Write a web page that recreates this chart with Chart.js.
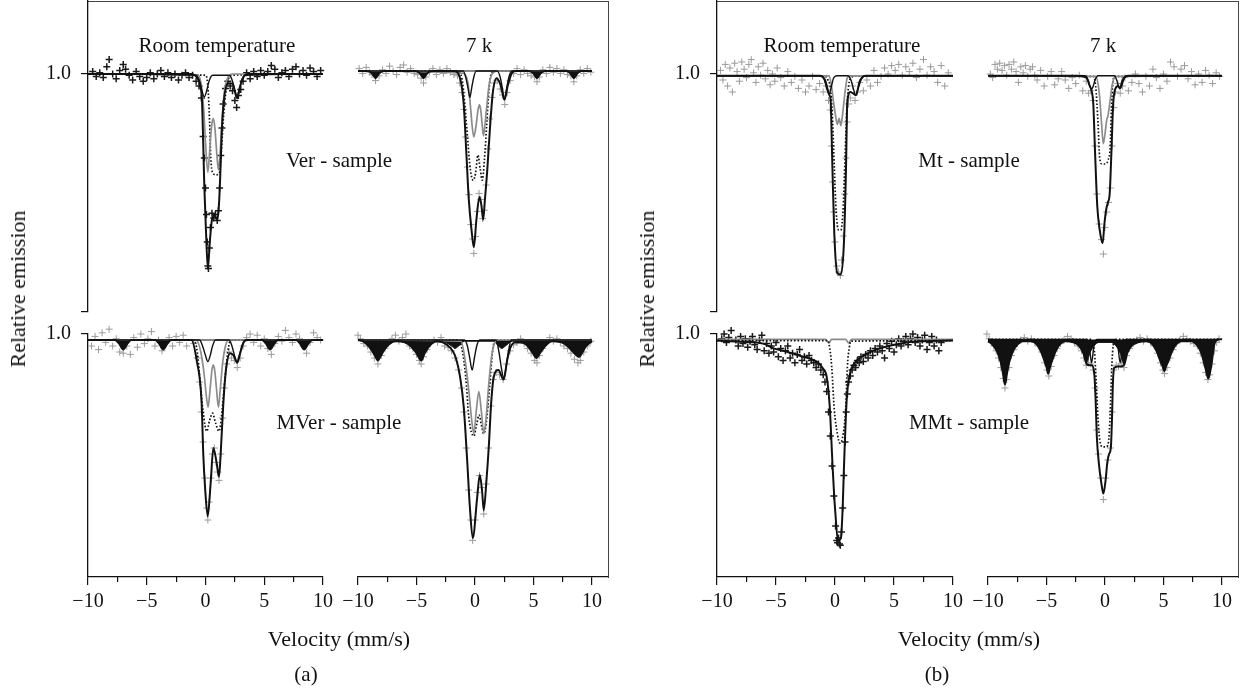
<!DOCTYPE html>
<html><head><meta charset="utf-8">
<script src="https://cdn.jsdelivr.net/npm/chart.js@4.4.1/dist/chart.umd.min.js"></script>
<style>
html,body{margin:0;padding:0;background:#fff;}
#wrap{position:relative;width:1249px;height:689px;overflow:hidden;font-family:"Liberation Serif","DejaVu Serif",serif;color:#111;background:#fff;}
canvas{position:absolute;left:0;top:-40px;}
.t{position:absolute;transform:translate(-50%,-50%);white-space:nowrap;font-size:21px;line-height:1;}
.ax{font-size:22px;}
.rot{transform:translate(-50%,-50%) rotate(-90deg);}
.frame{position:absolute;border-top:1px solid #444;border-right:1px solid #444;box-sizing:border-box;}
</style></head><body>
<div id="wrap">
<div class="frame" style="left:88px;top:1px;width:521px;height:577px;"></div>
<div class="frame" style="left:717px;top:1px;width:522px;height:577px;"></div>
<canvas id="c1" width="1249" height="729"></canvas>
<canvas id="c2" width="1249" height="729"></canvas>
<canvas id="c3" width="1249" height="729"></canvas>
<canvas id="c4" width="1249" height="729"></canvas>
<canvas id="c5" width="1249" height="729"></canvas>
<canvas id="c6" width="1249" height="729"></canvas>
<canvas id="c7" width="1249" height="729"></canvas>
<canvas id="c8" width="1249" height="729"></canvas>
<div class="t" style="left:217px;top:45px;">Room temperature</div>
<div class="t" style="left:479px;top:45px;">7 k</div>
<div class="t" style="left:339px;top:160px;">Ver - sample</div>
<div class="t" style="left:339px;top:422px;">MVer - sample</div>
<div class="t" style="left:842px;top:45px;">Room temperature</div>
<div class="t" style="left:1103px;top:45px;">7 k</div>
<div class="t" style="left:969px;top:160px;">Mt - sample</div>
<div class="t" style="left:969px;top:422px;">MMt - sample</div>
<div class="t ax" style="left:339px;top:639px;">Velocity (mm/s)</div>
<div class="t ax" style="left:969px;top:639px;">Velocity (mm/s)</div>
<div class="t" style="left:306px;top:674px;">(a)</div>
<div class="t" style="left:937px;top:674px;">(b)</div>
<div class="t ax rot" style="left:18px;top:289px;">Relative emission</div>
<div class="t ax rot" style="left:647px;top:289px;">Relative emission</div>
</div>
<script>
// ---------- tick values ----------
const xMajorTicks = [-10, -5, 0, 5, 10];
const xMinorTicks = [-7.5, -2.5, 2.5, 7.5];
const yLabelTick = 1.0;

// ---------- (a) Ver - sample, room temperature ----------
const fitVerRT = [[-10,1],[-1.2,1],[-0.8,0.998],[-0.6,0.995],[-0.45,0.99],[-0.3,0.978],[-0.2,0.945],[-0.1,0.906],[0.05,0.867],[0.2,0.838],[0.38,0.862],[0.58,0.88],[0.8,0.882],[1.0,0.878],[1.15,0.892],[1.25,0.914],[1.38,0.951],[1.55,0.976],[1.9,0.992],[2.3,0.992],[2.5,0.986],[2.7,0.980],[2.9,0.988],[3.2,0.997],[3.6,1],[10,1]];
const dblVerRT = [[-10,1],[-0.8,0.999],[-0.5,0.994],[-0.3,0.986],[-0.1,0.981],[0.1,0.986],[0.3,0.994],[0.6,0.999],[2.0,0.999],[2.3,0.994],[2.5,0.985],[2.68,0.980],[2.85,0.985],[3.05,0.994],[3.4,0.999],[10,1]];
const grayVerRT = [[-10,1],[-0.6,0.999],[-0.35,0.99],[-0.15,0.97],[0.0,0.943],[0.2,0.918],[0.35,0.935],[0.5,0.955],[0.65,0.963],[0.8,0.955],[0.95,0.935],[1.1,0.92],[1.25,0.935],[1.4,0.96],[1.6,0.985],[1.9,0.997],[2.3,1],[10,1]];
const dotVerRT = [[-10,1],[0.0,0.999],[0.2,0.99],[0.35,0.96],[0.45,0.93],[0.6,0.918],[0.9,0.916],[1.2,0.918],[1.35,0.935],[1.5,0.96],[1.7,0.982],[1.9,0.994],[2.2,0.999],[10,1]];
const ptsVerRT = [[-9.6,1.002],[-9.3,0.998],[-9.0,1.001],[-8.7,0.997],[-8.4,1.006],[-8.2,1.012],[-7.9,1.000],[-7.6,0.996],[-7.3,1.003],[-7.0,1.008],[-6.8,1.004],[-6.5,0.999],[-6.2,0.995],[-5.9,1.002],[-5.6,0.998],[-5.3,0.994],[-5.0,0.997],[-4.7,1.001],[-4.4,0.996],[-4.1,1.000],[-3.8,1.003],[-3.5,0.998],[-3.2,1.001],[-2.9,0.997],[-2.6,1.000],[-2.3,0.995],[-2.0,0.999],[-1.7,1.001],[-1.4,0.997],[-1.1,0.999],[-0.8,0.994],[-0.55,0.990],[-0.35,0.980],[-0.2,0.948],[-0.1,0.930],[0.0,0.905],[0.08,0.883],[0.15,0.86],[0.2,0.84],[0.25,0.838],[0.33,0.855],[0.42,0.872],[0.55,0.884],[0.7,0.880],[0.85,0.883],[1.0,0.878],[1.1,0.886],[1.2,0.905],[1.3,0.932],[1.4,0.955],[1.5,0.975],[1.7,0.988],[1.9,0.994],[2.1,0.99],[2.3,0.986],[2.5,0.978],[2.65,0.972],[2.8,0.982],[3.0,0.987],[3.2,0.994],[3.5,1.001],[3.8,0.996],[4.1,1.002],[4.4,0.998],[4.7,1.003],[5.0,0.999],[5.3,1.002],[5.6,1.007],[5.9,1.004],[6.2,0.997],[6.5,1.001],[6.8,1.003],[7.1,0.998],[7.4,1.004],[7.7,1.006],[8.0,1.000],[8.3,1.003],[8.6,0.999],[8.9,1.005],[9.2,1.002],[9.5,0.998],[9.8,1.003]];

// ---------- (a) Ver - sample, 7 K ----------
const fitVer7K = [[-10,1],[-9.2,1],[-8.8,0.998],[-8.5,0.994],[-8.2,0.998],[-7.8,1],[-5.1,1],[-4.7,0.998],[-4.4,0.994],[-4.1,0.998],[-3.7,1],[-1.8,1],[-1.25,0.993],[-0.96,0.972],[-0.73,0.93],[-0.53,0.893],[-0.3,0.868],[-0.1,0.853],[0.12,0.876],[0.38,0.895],[0.55,0.888],[0.7,0.876],[0.85,0.893],[1.04,0.916],[1.32,0.958],[1.55,0.984],[1.85,0.994],[2.2,0.988],[2.52,0.976],[2.8,0.988],[3.2,0.999],[3.5,1],[4.6,1],[5.0,0.998],[5.3,0.994],[5.6,0.998],[6.0,1],[7.8,1],[8.15,0.998],[8.45,0.994],[8.75,0.998],[9.1,1],[10,1]];
const sextVer7K = [[-10,1],[-9.2,1],[-8.8,0.998],[-8.5,0.994],[-8.2,0.998],[-7.8,1],[-5.1,1],[-4.7,0.998],[-4.4,0.994],[-4.1,0.998],[-3.7,1],[4.6,1],[5.0,0.998],[5.3,0.994],[5.6,0.998],[6.0,1],[7.8,1],[8.15,0.998],[8.45,0.994],[8.75,0.998],[9.1,1],[10,1]];
const dblVer7K = [[-10,1],[-1.0,1],[-0.8,0.995],[-0.6,0.986],[-0.44,0.978],[-0.28,0.986],[-0.1,0.995],[0.1,1],[1.9,1],[2.15,0.995],[2.35,0.985],[2.52,0.976],[2.7,0.985],[2.9,0.995],[3.15,1],[10,1]];
const grayVer7K = [[-10,1],[-1.0,0.998],[-0.6,0.99],[-0.4,0.972],[-0.25,0.955],[-0.1,0.945],[0.1,0.955],[0.25,0.967],[0.38,0.972],[0.5,0.967],[0.6,0.957],[0.72,0.946],[0.85,0.955],[1.0,0.97],[1.2,0.988],[1.5,0.998],[2,1],[10,1]];
const dotVer7K = [[-10,1],[-1.5,1],[-1.1,0.993],[-0.85,0.97],[-0.6,0.94],[-0.4,0.918],[-0.15,0.909],[0.05,0.915],[0.25,0.93],[0.45,0.918],[0.62,0.909],[0.8,0.925],[1.0,0.955],[1.2,0.985],[1.4,0.998],[1.8,1],[10,1]];
const ptsVer7K = [[-9.9,1.002],[-9.6,0.998],[-9.3,1.003],[-9.0,0.999],[-8.8,0.997],[-8.5,0.992],[-8.2,0.996],[-7.9,1.001],[-7.6,0.998],[-7.3,1.004],[-7.0,1.000],[-6.7,0.997],[-6.4,1.003],[-6.1,1.005],[-5.8,0.999],[-5.5,1.002],[-5.2,0.998],[-4.9,0.997],[-4.6,0.994],[-4.4,0.990],[-4.2,0.995],[-3.9,0.999],[-3.6,1.002],[-3.3,0.997],[-3.0,1.001],[-2.7,0.998],[-2.4,1.002],[-2.1,0.999],[-1.8,0.997],[-1.5,0.996],[-1.3,0.99],[-1.1,0.982],[-0.95,0.968],[-0.8,0.945],[-0.65,0.92],[-0.5,0.897],[-0.35,0.872],[-0.2,0.86],[-0.1,0.848],[0.05,0.862],[0.2,0.883],[0.35,0.898],[0.5,0.893],[0.65,0.877],[0.8,0.884],[0.95,0.905],[1.1,0.935],[1.25,0.96],[1.45,0.978],[1.65,0.99],[1.9,0.992],[2.15,0.985],[2.35,0.98],[2.55,0.972],[2.75,0.982],[3.0,0.992],[3.3,0.998],[3.6,1.002],[3.9,0.997],[4.2,1.001],[4.5,0.998],[4.8,0.996],[5.1,0.995],[5.3,0.991],[5.5,0.995],[5.8,1.001],[6.1,0.998],[6.4,1.003],[6.7,0.999],[7.0,1.002],[7.3,0.998],[7.6,1.001],[7.9,0.997],[8.2,0.996],[8.45,0.991],[8.7,0.996],[9.0,1.001],[9.3,0.998],[9.6,1.002],[9.9,0.999]];

// ---------- (a) MVer - sample, room temperature ----------
const fitMVerRT = [[-10,0.995],[-7.7,0.995],[-7.35,0.992],[-7.0,0.987],[-6.65,0.992],[-6.3,0.995],[-4.3,0.995],[-3.95,0.992],[-3.6,0.987],[-3.25,0.992],[-2.9,0.995],[-1.2,0.995],[-0.75,0.978],[-0.33,0.9425],[-0.19,0.90],[-0.04,0.8725],[0.19,0.848],[0.44,0.876],[0.67,0.905],[0.95,0.8925],[1.15,0.881],[1.29,0.90],[1.52,0.9425],[1.74,0.97],[2.1,0.984],[2.4,0.982],[2.7,0.976],[2.95,0.984],[3.3,0.994],[3.6,0.995],[4.8,0.995],[5.15,0.992],[5.5,0.987],[5.85,0.992],[6.2,0.995],[7.7,0.995],[8.05,0.992],[8.4,0.987],[8.75,0.992],[9.1,0.995],[10,0.995]];
const sextMVerRT = [[-10,0.995],[-7.7,0.995],[-7.35,0.992],[-7.0,0.987],[-6.65,0.992],[-6.3,0.995],[-4.3,0.995],[-3.95,0.992],[-3.6,0.987],[-3.25,0.992],[-2.9,0.995],[4.8,0.995],[5.15,0.992],[5.5,0.987],[5.85,0.992],[6.2,0.995],[7.7,0.995],[8.05,0.992],[8.4,0.987],[8.75,0.992],[9.1,0.995],[10,0.995]];
const dblMVerRT = [[-10,0.995],[-0.5,0.995],[-0.25,0.99],[0.0,0.982],[0.2,0.977],[0.4,0.982],[0.6,0.99],[0.85,0.995],[2.0,0.995],[2.25,0.99],[2.5,0.981],[2.68,0.976],[2.85,0.981],[3.1,0.99],[3.4,0.995],[10,0.995]];
const grayMVerRT = [[-10,0.995],[-0.8,0.995],[-0.4,0.985],[-0.1,0.965],[0.05,0.95],[0.22,0.939],[0.4,0.955],[0.55,0.97],[0.66,0.974],[0.78,0.97],[0.93,0.955],[1.1,0.939],[1.25,0.953],[1.45,0.975],[1.7,0.99],[2.0,0.995],[10,0.995]];
const dotMVerRT = [[-10,0.995],[-1.0,0.995],[-0.7,0.985],[-0.45,0.96],[-0.2,0.935],[0.1,0.919],[0.35,0.928],[0.6,0.934],[0.85,0.926],[1.15,0.919],[1.4,0.935],[1.65,0.962],[1.9,0.985],[2.1,0.994],[2.4,0.995],[10,0.995]];
const ptsMVerRT = [[-9.7,0.99],[-9.4,0.998],[-9.1,0.987],[-8.8,1.001],[-8.5,0.993],[-8.2,1.004],[-7.9,0.99],[-7.6,0.996],[-7.3,0.985],[-7.0,0.984],[-6.7,0.99],[-6.4,0.983],[-6.1,0.997],[-5.8,0.989],[-5.5,1.0],[-5.2,0.992],[-4.9,0.996],[-4.6,1.002],[-4.3,0.99],[-4.0,0.995],[-3.7,0.986],[-3.4,0.992],[-3.1,0.997],[-2.8,0.99],[-2.5,0.998],[-2.2,0.993],[-1.9,0.999],[-1.6,0.99],[-1.3,1.006],[-1.0,0.992],[-0.7,0.98],[-0.5,0.96],[-0.35,0.935],[-0.2,0.91],[-0.05,0.88],[0.1,0.855],[0.2,0.845],[0.3,0.86],[0.45,0.88],[0.6,0.9],[0.75,0.905],[0.9,0.893],[1.05,0.885],[1.15,0.878],[1.3,0.9],[1.45,0.93],[1.6,0.955],[1.8,0.975],[2.0,0.985],[2.2,0.98],[2.45,0.978],[2.7,0.972],[2.95,0.98],[3.2,0.99],[3.5,0.997],[3.8,1.0],[4.1,0.993],[4.4,0.999],[4.7,0.99],[5.0,0.996],[5.3,0.988],[5.6,0.983],[5.9,0.992],[6.2,0.998],[6.5,0.994],[6.8,1.003],[7.1,0.997],[7.4,0.993],[7.7,1.0],[8.0,0.996],[8.3,0.99],[8.6,0.984],[8.9,0.993],[9.2,1.001],[9.5,0.997],[9.8,0.995]];

// ---------- (a) MVer - sample, 7 K ----------
const fitMVer7K = [[-10,0.995],[-9.6,0.994],[-9.2,0.991],[-8.8,0.986],[-8.5,0.981],[-8.3,0.978],[-8.1,0.981],[-7.8,0.986],[-7.4,0.991],[-6.8,0.994],[-6.0,0.993],[-5.5,0.99],[-5.0,0.984],[-4.6,0.978],[-4.3,0.984],[-3.9,0.99],[-3.3,0.994],[-2.4,0.991],[-1.67,0.981],[-1.24,0.962],[-0.96,0.939],[-0.67,0.895],[-0.44,0.856],[-0.19,0.83],[0.19,0.864],[0.41,0.8825],[0.6,0.87],[0.75,0.853],[0.98,0.878],[1.18,0.906],[1.38,0.942],[1.6,0.964],[2.0,0.97],[2.45,0.962],[2.75,0.978],[3.0,0.988],[3.4,0.993],[4.0,0.993],[4.5,0.99],[4.95,0.984],[5.25,0.98],[5.55,0.984],[6.0,0.99],[6.6,0.994],[7.4,0.993],[7.9,0.99],[8.4,0.985],[8.9,0.981],[9.2,0.985],[9.5,0.99],[10,0.994]];
const sextMVer7K = [[-10,0.995],[-9.6,0.994],[-9.2,0.991],[-8.8,0.986],[-8.5,0.981],[-8.3,0.978],[-8.1,0.981],[-7.8,0.986],[-7.4,0.991],[-6.8,0.994],[-6.0,0.993],[-5.5,0.99],[-5.0,0.984],[-4.6,0.978],[-4.3,0.984],[-3.9,0.99],[-3.3,0.994],[-2.5,0.993],[-2.0,0.99],[-1.7,0.988],[-1.4,0.99],[-0.9,0.994],[1.6,0.994],[2.0,0.99],[2.3,0.988],[2.6,0.99],[3.2,0.994],[4.0,0.993],[4.5,0.99],[4.95,0.984],[5.25,0.98],[5.55,0.984],[6.0,0.99],[6.6,0.994],[7.4,0.993],[7.9,0.99],[8.4,0.985],[8.9,0.981],[9.2,0.985],[9.5,0.99],[10,0.994]];
const dblMVer7K = [[-10,0.995],[-0.9,0.995],[-0.65,0.99],[-0.45,0.98],[-0.24,0.97],[-0.05,0.98],[0.15,0.99],[0.4,0.995],[1.8,0.995],[2.05,0.985],[2.25,0.972],[2.46,0.963],[2.65,0.972],[2.85,0.985],[3.1,0.995],[10,0.995]];
const grayMVer7K = [[-10,0.995],[-1.2,0.994],[-0.8,0.975],[-0.5,0.95],[-0.3,0.93],[-0.1,0.917],[0.1,0.935],[0.33,0.952],[0.55,0.935],[0.75,0.917],[0.95,0.93],[1.15,0.955],[1.4,0.98],[1.7,0.993],[2.0,0.995],[10,0.995]];
const dotMVer7K = [[-10,0.995],[-1.4,0.995],[-1.1,0.987],[-0.8,0.965],[-0.53,0.931],[-0.3,0.918],[-0.1,0.915],[0.15,0.925],[0.35,0.9325],[0.55,0.924],[0.75,0.917],[0.95,0.925],[1.25,0.956],[1.52,0.987],[1.75,0.995],[10,0.995]];
const ptsMVer7K = [[-10.0,0.999],[-9.8,0.996],[-9.5,0.992],[-9.2,0.99],[-8.9,0.985],[-8.6,0.98],[-8.3,0.975],[-8.0,0.982],[-7.7,0.988],[-7.4,0.992],[-7.1,0.996],[-6.8,0.999],[-6.5,0.994],[-6.2,0.997],[-5.9,1.0],[-5.6,0.99],[-5.3,0.988],[-5.0,0.983],[-4.75,0.978],[-4.6,0.975],[-4.4,0.981],[-4.1,0.987],[-3.8,0.992],[-3.5,0.995],[-3.2,0.993],[-2.9,0.997],[-2.6,0.99],[-2.3,0.989],[-2.0,0.986],[-1.7,0.98],[-1.4,0.97],[-1.15,0.955],[-0.95,0.935],[-0.75,0.905],[-0.55,0.87],[-0.35,0.845],[-0.2,0.828],[0.0,0.845],[0.2,0.868],[0.38,0.882],[0.55,0.872],[0.75,0.85],[0.95,0.875],[1.15,0.905],[1.35,0.94],[1.55,0.962],[1.8,0.968],[2.1,0.966],[2.4,0.962],[2.7,0.975],[3.0,0.986],[3.3,0.991],[3.6,0.993],[3.9,0.996],[4.2,0.992],[4.5,0.988],[4.8,0.984],[5.1,0.978],[5.3,0.976],[5.5,0.982],[5.8,0.988],[6.1,0.993],[6.4,0.997],[6.7,0.994],[7.0,0.996],[7.3,0.993],[7.6,0.99],[7.9,0.988],[8.2,0.984],[8.5,0.979],[8.8,0.976],[9.0,0.978],[9.3,0.985],[9.6,0.99],[9.9,0.994]];

// ---------- (b) Mt - sample, room temperature ----------
const fitMtRT = [[-10,0.9985],[-1.3,0.9985],[-0.85,0.995],[-0.56,0.985],[-0.45,0.982],[-0.37,0.978],[-0.22,0.9225],[-0.06,0.867],[0.2,0.834],[0.5,0.833],[0.76,0.86],[0.93,0.92],[1.04,0.976],[1.3,0.985],[1.5,0.984],[1.78,0.9825],[2.1,0.994],[2.6,0.9985],[10,0.9985]];
const dblMtRT = [[-10,0.9985],[-1.2,0.9985],[-0.9,0.995],[-0.7,0.988],[-0.5,0.983],[-0.3,0.99],[-0.1,0.997],[0.2,0.9985],[1.1,0.9985],[1.35,0.995],[1.55,0.988],[1.75,0.982],[1.95,0.988],[2.2,0.995],[2.5,0.9985],[10,0.9985]];
const grayMtRT = [[-10,0.9985],[-0.5,0.9985],[-0.3,0.99],[-0.1,0.975],[0.05,0.965],[0.2,0.958],[0.35,0.963],[0.5,0.957],[0.65,0.967],[0.85,0.985],[1.05,0.997],[1.3,0.9985],[10,0.9985]];
const dotMtRT = [[-10,0.9985],[-1.0,0.9985],[-0.6,0.995],[-0.35,0.985],[-0.2,0.96],[-0.05,0.92],[0.1,0.885],[0.3,0.87],[0.5,0.87],[0.7,0.89],[0.85,0.93],[1.0,0.97],[1.15,0.99],[1.4,0.997],[1.8,0.9985],[10,0.9985]];
const ptsMtRT = [[-9.7,1.003],[-9.5,0.995],[-9.3,1.008],[-9.1,0.99],[-8.9,1.005],[-8.7,0.985],[-8.5,1.009],[-8.3,1.002],[-8.1,0.994],[-7.9,1.01],[-7.7,1.004],[-7.5,0.997],[-7.3,1.008],[-7.1,1.012],[-6.9,1.001],[-6.7,0.993],[-6.5,1.006],[-6.3,0.999],[-6.1,1.009],[-5.9,0.996],[-5.7,1.003],[-5.5,0.991],[-5.3,1.0],[-5.1,0.994],[-4.9,1.005],[-4.6,0.997],[-4.3,0.99],[-4.0,1.002],[-3.7,0.993],[-3.4,0.998],[-3.1,0.988],[-2.8,0.995],[-2.5,0.985],[-2.2,0.99],[-1.9,0.998],[-1.6,0.987],[-1.3,0.992],[-1.0,0.985],[-0.75,0.99],[-0.55,0.978],[-0.4,0.97],[-0.3,0.94],[-0.2,0.91],[-0.1,0.885],[0.0,0.86],[0.15,0.84],[0.3,0.835],[0.45,0.832],[0.55,0.845],[0.7,0.865],[0.82,0.9],[0.92,0.93],[1.02,0.96],[1.15,0.975],[1.3,0.98],[1.5,0.99],[1.7,0.978],[1.9,0.985],[2.1,0.993],[2.4,0.986],[2.7,0.995],[3.0,0.99],[3.3,1.003],[3.6,0.993],[3.9,0.998],[4.2,1.005],[4.5,1.0],[4.8,1.007],[5.1,1.003],[5.4,1.008],[5.7,0.999],[6.0,1.006],[6.3,1.002],[6.6,1.009],[6.9,0.997],[7.2,1.004],[7.5,1.012],[7.8,0.999],[8.1,1.006],[8.4,1.002],[8.7,0.993],[9.0,1.007],[9.3,0.99],[9.6,1.001]];

// ---------- (b) Mt - sample, 7 K ----------
const fitMt7K = [[-10,0.9985],[-2.5,0.9985],[-1.6,0.997],[-1.3,0.99],[-1.15,0.986],[-1.0,0.975],[-0.85,0.935],[-0.66,0.89],[-0.45,0.87],[-0.2,0.859],[-0.05,0.875],[0.1,0.887],[0.25,0.893],[0.4,0.9],[0.55,0.935],[0.7,0.975],[0.9,0.988],[1.1,0.99],[1.28,0.988],[1.5,0.995],[2.0,0.9985],[10,0.9985]];
const dblMt7K = [[-10,0.9985],[-1.7,0.9985],[-1.45,0.995],[-1.3,0.99],[-1.15,0.987],[-1.0,0.99],[-0.85,0.995],[-0.6,0.9985],[0.8,0.9985],[1.0,0.995],[1.15,0.99],[1.28,0.988],[1.42,0.99],[1.6,0.995],[1.85,0.9985],[10,0.9985]];
const grayMt7K = [[-10,0.9985],[-0.8,0.998],[-0.5,0.985],[-0.3,0.96],[-0.15,0.942],[0.0,0.95],[0.15,0.962],[0.25,0.965],[0.4,0.975],[0.6,0.99],[0.9,0.998],[10,0.9985]];
const dotMt7K = [[-10,0.9985],[-1.0,0.998],[-0.8,0.99],[-0.6,0.96],[-0.45,0.93],[-0.25,0.925],[0.0,0.925],[0.25,0.928],[0.45,0.94],[0.55,0.97],[0.65,0.99],[0.8,0.998],[10,0.9985]];
const ptsMt7K = [[-9.8,1.0],[-9.6,0.997],[-9.4,1.008],[-9.2,1.004],[-9.0,1.009],[-8.8,1.003],[-8.6,1.007],[-8.4,0.999],[-8.2,1.008],[-8.0,1.004],[-7.8,1.01],[-7.6,1.002],[-7.4,0.993],[-7.2,1.006],[-7.0,1.001],[-6.8,1.007],[-6.6,0.998],[-6.4,1.004],[-6.2,1.006],[-6.0,0.999],[-5.8,0.995],[-5.5,1.003],[-5.2,0.99],[-4.9,0.998],[-4.6,1.002],[-4.3,0.991],[-4.0,0.996],[-3.7,1.002],[-3.4,0.995],[-3.1,0.988],[-2.8,0.997],[-2.5,0.992],[-2.2,0.999],[-1.9,0.986],[-1.6,0.994],[-1.4,0.984],[-1.2,0.986],[-1.0,0.978],[-0.85,0.94],[-0.7,0.9],[-0.5,0.875],[-0.3,0.862],[-0.14,0.85],[0.0,0.872],[0.15,0.885],[0.3,0.893],[0.45,0.905],[0.6,0.94],[0.75,0.972],[0.9,0.985],[1.1,0.992],[1.3,0.984],[1.5,0.99],[1.7,0.997],[2.0,0.986],[2.3,0.993],[2.6,1.0],[2.9,0.992],[3.2,0.985],[3.5,0.998],[3.8,0.99],[4.1,1.004],[4.4,0.997],[4.7,0.988],[5.0,1.0],[5.3,0.994],[5.6,1.01],[5.9,1.006],[6.2,0.998],[6.5,1.004],[6.8,1.007],[7.1,0.996],[7.4,1.002],[7.7,0.991],[8.0,1.0],[8.3,0.993],[8.6,1.003],[8.9,0.999],[9.2,0.992],[9.5,1.001],[9.8,0.998]];

// ---------- (b) MMt - sample, room temperature ----------
const fitMMtRT = [[-10,0.9945],[-8,0.9935],[-6.1,0.992],[-5.2,0.988],[-4.0,0.985],[-3.2,0.9825],[-2.3,0.98],[-1.55,0.977],[-1.0,0.971],[-0.7,0.964],[-0.45,0.94],[-0.2,0.889],[0.0,0.855],[0.28,0.828],[0.5,0.83],[0.65,0.855],[0.76,0.889],[0.99,0.945],[1.27,0.967],[1.7,0.976],[2.1,0.98],[3.0,0.985],[3.8,0.988],[5.0,0.991],[6.1,0.993],[7.5,0.994],[10,0.9945]];
const dotMMtRT = [[-10,0.9945],[-0.6,0.9945],[-0.4,0.985],[-0.28,0.973],[-0.06,0.937],[0.2,0.917],[0.42,0.909],[0.7,0.917],[0.9,0.937],[1.05,0.973],[1.2,0.988],[1.35,0.994],[10,0.9945]];
const thinMMtRT = [[-10,0.9955],[-0.8,0.9955],[-0.5,0.9925],[-0.3,0.9955],[0.9,0.9955],[1.15,0.9925],[1.4,0.9955],[10,0.9955]];
const ptsMMtRT = [[-9.6,0.996],[-9.4,1.0],[-9.2,0.993],[-9.0,0.997],[-8.8,1.003],[-8.6,1.008],[-8.4,0.995],[-8.2,0.99],[-8.0,0.998],[-7.8,0.992],[-7.6,0.996],[-7.4,0.989],[-7.2,0.994],[-7.0,0.998],[-6.8,0.991],[-6.6,0.987],[-6.4,0.995],[-6.2,0.999],[-6.0,0.986],[-5.8,0.992],[-5.6,0.984],[-5.4,0.99],[-5.2,0.985],[-5.0,0.993],[-4.8,0.981],[-4.6,0.988],[-4.4,0.978],[-4.2,0.986],[-4.0,0.99],[-3.8,0.98],[-3.6,0.984],[-3.4,0.976],[-3.2,0.983],[-3.0,0.987],[-2.8,0.978],[-2.6,0.981],[-2.4,0.975],[-2.2,0.982],[-2.0,0.978],[-1.8,0.976],[-1.6,0.972],[-1.4,0.975],[-1.2,0.97],[-1.0,0.966],[-0.85,0.96],[-0.7,0.952],[-0.55,0.935],[-0.4,0.915],[-0.25,0.89],[-0.1,0.865],[0.05,0.84],[0.15,0.828],[0.22,0.826],[0.3,0.83],[0.38,0.825],[0.45,0.824],[0.55,0.835],[0.65,0.855],[0.75,0.882],[0.85,0.91],[0.95,0.935],[1.05,0.95],[1.15,0.96],[1.3,0.965],[1.45,0.97],[1.6,0.974],[1.75,0.972],[1.9,0.978],[2.05,0.976],[2.2,0.981],[2.4,0.977],[2.6,0.983],[2.8,0.98],[3.0,0.986],[3.2,0.982],[3.4,0.988],[3.6,0.985],[3.8,0.99],[4.0,0.986],[4.2,0.98],[4.4,0.992],[4.6,0.988],[4.8,0.994],[5.0,0.985],[5.2,0.991],[5.4,0.996],[5.6,0.99],[5.8,0.994],[6.0,0.998],[6.2,0.991],[6.4,0.996],[6.6,1.0],[6.8,0.993],[7.0,0.997],[7.2,0.99],[7.4,0.995],[7.6,0.999],[7.8,0.987],[8.0,0.993],[8.2,0.998],[8.4,0.99],[8.6,0.995],[8.8,0.986],[9.0,0.993]];

// ---------- (b) MMt - sample, 7 K ----------
const sextMMt7K = [[-10,0.994],[-9.6,0.991],[-9.2,0.985],[-8.9,0.976],[-8.7,0.966],[-8.55,0.958],[-8.4,0.966],[-8.2,0.976],[-7.9,0.985],[-7.5,0.991],[-7.0,0.994],[-6.3,0.994],[-5.8,0.991],[-5.45,0.985],[-5.15,0.977],[-4.98,0.972],[-4.85,0.967],[-4.72,0.972],[-4.55,0.977],[-4.25,0.985],[-3.9,0.991],[-3.4,0.994],[-2.7,0.993],[-2.2,0.99],[-1.85,0.984],[-1.57,0.976],[-1.3,0.984],[-0.95,0.99],[-0.5,0.993],[0.5,0.993],[0.95,0.99],[1.3,0.984],[1.62,0.975],[1.9,0.984],[2.25,0.99],[2.8,0.993],[3.6,0.994],[4.1,0.991],[4.45,0.985],[4.75,0.977],[4.93,0.973],[5.07,0.969],[5.21,0.973],[5.4,0.977],[5.7,0.985],[6.05,0.991],[6.5,0.994],[7.4,0.994],[7.85,0.991],[8.2,0.985],[8.5,0.975],[8.68,0.968],[8.83,0.963],[8.98,0.968],[9.15,0.978],[9.3,0.989],[9.45,0.994]];
const fitMMt7K = [[-10,0.994],[-9.6,0.991],[-9.2,0.985],[-8.9,0.976],[-8.7,0.966],[-8.55,0.958],[-8.4,0.966],[-8.2,0.976],[-7.9,0.985],[-7.5,0.991],[-7.0,0.994],[-6.3,0.994],[-5.8,0.991],[-5.45,0.985],[-5.15,0.977],[-4.98,0.972],[-4.85,0.967],[-4.72,0.972],[-4.55,0.977],[-4.25,0.985],[-3.9,0.991],[-3.4,0.994],[-2.7,0.993],[-2.2,0.99],[-1.85,0.984],[-1.57,0.975],[-1.3,0.974],[-1.1,0.974],[-0.9,0.965],[-0.8,0.945],[-0.7,0.915],[-0.5,0.89],[-0.3,0.875],[-0.14,0.867],[0.05,0.878],[0.2,0.893],[0.35,0.9],[0.5,0.905],[0.6,0.93],[0.68,0.96],[0.8,0.972],[1.1,0.973],[1.35,0.973],[1.62,0.974],[1.9,0.984],[2.25,0.99],[2.8,0.993],[3.6,0.994],[4.1,0.991],[4.45,0.985],[4.75,0.977],[4.93,0.973],[5.07,0.969],[5.21,0.973],[5.4,0.977],[5.7,0.985],[6.05,0.991],[6.5,0.994],[7.4,0.994],[7.85,0.991],[8.2,0.985],[8.5,0.975],[8.68,0.968],[8.83,0.963],[8.98,0.968],[9.15,0.978],[9.3,0.989],[9.45,0.994],[9.8,0.9955]];
const dblMMt7K = [[-10,0.9955],[-1.6,0.9955],[-1.35,0.99],[-1.14,0.976],[-0.95,0.99],[-0.7,0.9955],[0.9,0.9955],[1.1,0.99],[1.3,0.976],[1.5,0.99],[1.75,0.9955],[10,0.9955]];
const dotMMt7K = [[-10,0.9955],[-1.2,0.9955],[-0.9,0.985],[-0.75,0.96],[-0.6,0.93],[-0.45,0.912],[-0.2,0.906],[0.1,0.906],[0.3,0.91],[0.45,0.935],[0.55,0.965],[0.65,0.985],[0.85,0.9955],[10,0.9955]];
const ptsMMt7K = [[-10.1,1.0],[-9.9,0.996],[-9.7,0.993],[-9.5,0.99],[-9.3,0.986],[-9.1,0.98],[-8.9,0.972],[-8.7,0.963],[-8.55,0.955],[-8.4,0.962],[-8.2,0.972],[-8.0,0.982],[-7.8,0.987],[-7.5,0.992],[-7.2,0.995],[-6.9,0.997],[-6.6,0.994],[-6.3,0.996],[-6.0,0.993],[-5.7,0.99],[-5.4,0.985],[-5.15,0.976],[-4.95,0.97],[-4.8,0.965],[-4.6,0.973],[-4.35,0.982],[-4.1,0.988],[-3.8,0.992],[-3.5,0.995],[-3.2,0.998],[-2.9,0.996],[-2.6,0.993],[-2.3,0.99],[-2.0,0.986],[-1.8,0.98],[-1.6,0.974],[-1.4,0.976],[-1.2,0.975],[-1.0,0.97],[-0.85,0.955],[-0.7,0.92],[-0.55,0.9],[-0.35,0.88],[-0.14,0.862],[0.05,0.88],[0.25,0.895],[0.45,0.905],[0.6,0.935],[0.75,0.97],[0.95,0.974],[1.15,0.973],[1.4,0.975],[1.62,0.972],[1.85,0.982],[2.1,0.988],[2.4,0.992],[2.7,0.995],[3.0,0.997],[3.3,0.994],[3.6,0.996],[3.9,0.993],[4.2,0.99],[4.5,0.984],[4.75,0.976],[4.95,0.97],[5.1,0.967],[5.3,0.972],[5.55,0.98],[5.8,0.987],[6.1,0.992],[6.4,0.995],[6.7,0.998],[7.0,0.996],[7.3,0.994],[7.6,0.992],[7.9,0.99],[8.15,0.984],[8.4,0.976],[8.6,0.968],[8.8,0.962],[8.95,0.966],[9.15,0.975],[9.35,0.986],[9.55,0.993],[9.75,0.996]];

// ---------- rendering ----------
Chart.defaults.font.family = '"Liberation Serif","DejaVu Serif",serif';
Chart.defaults.color = '#111';

const OFF = 40;           // canvases start 40px above the page so axis label padding fits
const CW = 1249, CH = 689 + OFF;
const INK = '#111';
const GREY = '#8c8c8c';
const PT_GREY = '#9a9a9a';
const PT_BLACK = '#1a1a1a';
const UP = {min: 0.80167, max: 1.06083};
const UPR = {min: 0.79917, max: 1.05833};
const LO = {min: 0.7975, max: 1.0};

function pts(a){ return a.map(p => ({x: p[0], y: p[1]})); }
function line(a, st){ return Object.assign({type:'line', data: pts(a), pointRadius:0, fill:false, cubicInterpolationMode:'monotone', clip:false}, st); }
const fit = a => line(a, {borderColor:INK, borderWidth:2});
const thin = a => line(a, {borderColor:INK, borderWidth:1.4});
const grey = a => line(a, {borderColor:GREY, borderWidth:1.7});
const dots = a => line(a, {borderColor:INK, borderWidth:1.7, borderDash:[1.6,1.9]});
const sext = (a, base) => line(a, {borderColor:INK, borderWidth:1, backgroundColor:INK, fill:{value: base}});
const marks = (a, c, w) => ({type:'line', data: pts(a), showLine:false, pointStyle:'cross', pointRadius:3.5, pointBorderWidth:w || 1, pointBorderColor:c, borderColor:c, backgroundColor:c, clip:false});

function fmt(v){ return v < 0 ? '\u2212' + Math.abs(v) : String(v); }

function makeChart(id, area, yr, opt, datasets){
  const hasY = !!opt.yTicks, hasX = !!opt.xAxis;
  const xmax = opt.xmax || 10;
  const scales = {
    x: {type:'linear', min:-10, max:xmax, display:hasX, position:'bottom',
        afterBuildTicks: s => { s.ticks = xMajorTicks.map(v => ({value:v})); },
        afterFit: s => { s.height = hasX ? 40 : 0; },
        ticks: {autoSkip:false, maxRotation:0, padding:5, font:{size:20}, color:INK, callback: v => fmt(v)},
        grid: {drawOnChartArea:false, drawTicks:true, tickLength:8, color:INK, lineWidth:1.2},
        border: {display:true, color:INK, width:1.3}},
    y: {type:'linear', min:yr.min, max:yr.max, display:hasY, position:'left',
        afterBuildTicks: s => { s.ticks = (opt.yTicks || []).map(v => ({value:v})); },
        afterFit: s => { s.width = hasY ? 45 : 0; },
        ticks: {padding:10, font:{size:20}, color:INK, callback: v => (Math.abs(v - yLabelTick) < 1e-9 ? yLabelTick.toFixed(1) : '')},
        grid: {drawOnChartArea:false, drawTicks:true, tickLength:7, color:INK, lineWidth:1.2},
        border: {display:true, color:INK, width:1.3}}
  };
  if (hasX) {
    scales.x2 = {type:'linear', axis:'x', min:-10, max:xmax, display:true, position:{y: yr.min},
        afterBuildTicks: s => { s.ticks = xMinorTicks.map(v => ({value:v})); },
        ticks: {autoSkip:false, maxRotation:0, callback: () => ''},
        grid: {drawOnChartArea:false, drawTicks:true, tickLength:5, color:INK, lineWidth:1.2},
        border: {display:false}};
  }
  const padding = {left: area.L - (hasY ? 45 : 0), top: area.T + OFF, right: CW - area.R, bottom: 689 - area.B - (hasX ? 40 : 0)};
  new Chart(document.getElementById(id), {
    type:'line', data:{datasets},
    options:{responsive:false, animation:false, events:[], layout:{padding},
      plugins:{legend:{display:false}, tooltip:{enabled:false}}, scales}
  });
}

// (a) upper-left: Ver RT
makeChart('c1', {L:88, T:1, R:323, B:312}, UP, {yTicks:[UP.min, 1.0]},
  [fit(fitVerRT), thin(dblVerRT), grey(grayVerRT), dots(dotVerRT), marks(ptsVerRT, PT_BLACK, 1.5)]);
// (a) upper-right: Ver 7 K
makeChart('c2', {L:358, T:1, R:608, B:312}, UPR, {xmax:11.37},
  [fit(fitVer7K), thin(dblVer7K), grey(grayVer7K), dots(dotVer7K), sext(sextVer7K, 1.0), marks(ptsVer7K, PT_GREY)]);
// (a) lower-left: MVer RT
makeChart('c3', {L:88, T:334, R:323, B:577}, LO, {yTicks:[1.0], xAxis:true},
  [fit(fitMVerRT), thin(dblMVerRT), grey(grayMVerRT), dots(dotMVerRT), sext(sextMVerRT, 0.995), marks(ptsMVerRT, PT_GREY)]);
// (a) lower-right: MVer 7 K
makeChart('c4', {L:358, T:334, R:608, B:577}, LO, {xAxis:true, xmax:11.37},
  [fit(fitMVer7K), thin(dblMVer7K), grey(grayMVer7K), dots(dotMVer7K), sext(sextMVer7K, 0.995), marks(ptsMVer7K, PT_GREY)]);
// (b) upper-left: Mt RT
makeChart('c5', {L:717, T:1, R:953, B:312}, UP, {yTicks:[UP.min, 1.0]},
  [fit(fitMtRT), thin(dblMtRT), grey(grayMtRT), dots(dotMtRT), marks(ptsMtRT, PT_GREY)]);
// (b) upper-right: Mt 7 K
makeChart('c6', {L:988, T:1, R:1238, B:312}, UP, {xmax:11.37},
  [fit(fitMt7K), thin(dblMt7K), grey(grayMt7K), dots(dotMt7K), marks(ptsMt7K, PT_GREY)]);
// (b) lower-left: MMt RT
makeChart('c7', {L:717, T:334, R:953, B:577}, LO, {yTicks:[1.0], xAxis:true},
  [fit(fitMMtRT), dots(dotMMtRT), grey(thinMMtRT), marks(ptsMMtRT, PT_BLACK, 1.5)]);
// (b) lower-right: MMt 7 K
makeChart('c8', {L:988, T:334, R:1238, B:577}, LO, {xAxis:true, xmax:11.37},
  [fit(fitMMt7K), thin(dblMMt7K), dots(dotMMt7K), sext(sextMMt7K, 0.9955), marks(ptsMMt7K, PT_GREY)]);
</script>
</body></html>
